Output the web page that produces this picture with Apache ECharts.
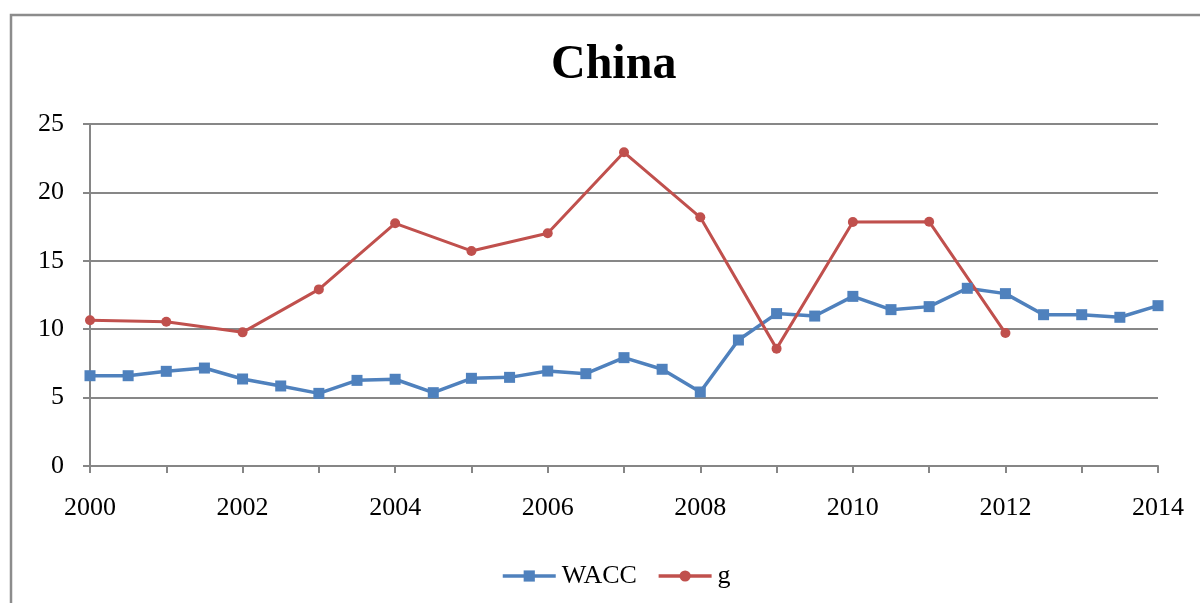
<!DOCTYPE html>
<html>
<head>
<meta charset="utf-8">
<script src="https://cdn.jsdelivr.net/npm/echarts@6/dist/echarts.min.js"></script>
<style>
html,body{margin:0;padding:0;background:#fff;}
#c{width:1200px;height:603px;}
</style>
</head>
<body>
<div id="c"></div>
<script>
var titleText = 'China';
var waccYears = [2000,2000.5,2001,2001.5,2002,2002.5,2003,2003.5,2004,2004.5,2005,2005.5,2006,2006.5,2007,2007.5,2008,2008.5,2009,2009.5,2010,2010.5,2011,2011.5,2012,2012.5,2013,2013.5,2014];
var waccValues = [6.60,6.60,6.92,7.16,6.36,5.85,5.31,6.26,6.34,5.36,6.41,6.48,6.94,6.75,7.92,7.07,5.41,9.21,11.14,10.96,12.40,11.43,11.65,12.99,12.60,11.06,11.06,10.87,11.72];
var gYears = [2000,2001,2002,2003,2004,2005,2006,2007,2008,2009,2010,2011,2012];
var gValues = [10.65,10.55,9.77,12.91,17.74,15.72,17.01,22.93,18.18,8.58,17.84,17.86,9.72];
var yTicks = [0,5,10,15,20,25];

function pairs(xs, ys){ return xs.map(function(x,i){ return [x, ys[i]]; }); }

var font = '"Liberation Serif","Times New Roman",serif';
var chart = echarts.init(document.getElementById('c'));
chart.setOption({
  backgroundColor:'#fff',
  animation:false,
  graphic:[{type:'rect', shape:{x:11,y:15,width:1250,height:650}, style:{fill:'none', stroke:'#8c8c8c', lineWidth:2.5}, silent:true}],
  title:{text:titleText, left:551, top:42, textStyle:{fontFamily:font, fontSize:48, fontWeight:'bold', color:'#000'}, padding:0},
  legend:{top:558, left:496, itemWidth:53, itemHeight:14, itemGap:20,
    lineStyle:{width:3.5},
    textStyle:{fontFamily:font, fontSize:26, color:'#000', padding:[0,0,0,1]},
    data:['WACC','g']},
  grid:{left:90, right:42, top:124, bottom:137, containLabel:false},
  xAxis:{type:'value', min:2000, max:2014, interval:1,
    axisLine:{show:true, lineStyle:{color:'#868686', width:2}},
    axisTick:{show:true, length:7, inside:false, lineStyle:{color:'#868686', width:2}},
    splitLine:{show:false},
    axisLabel:{margin:29, fontFamily:font, fontSize:26, color:'#000',
      formatter:function(v){ return (v % 2 === 0) ? String(v) : ''; }}},
  yAxis:{type:'value', min:yTicks[0], max:yTicks[yTicks.length-1], interval:5,
    axisLine:{show:true, lineStyle:{color:'#868686', width:2}},
    axisTick:{show:true, length:7, lineStyle:{color:'#868686', width:2}},
    splitLine:{show:true, lineStyle:{color:'#878787', width:2}},
    axisLabel:{margin:26, fontFamily:font, fontSize:26, color:'#000'}},
  series:[
    {name:'WACC', type:'line', data:pairs(waccYears, waccValues), symbol:'rect', symbolSize:11,
      lineStyle:{color:'#4F81BD', width:3.5}, itemStyle:{color:'#4F81BD'}},
    {name:'g', type:'line', data:pairs(gYears, gValues), symbol:'circle', symbolSize:10,
      lineStyle:{color:'#C0504D', width:3}, itemStyle:{color:'#C0504D'}}
  ]
});
</script>
</body>
</html>
